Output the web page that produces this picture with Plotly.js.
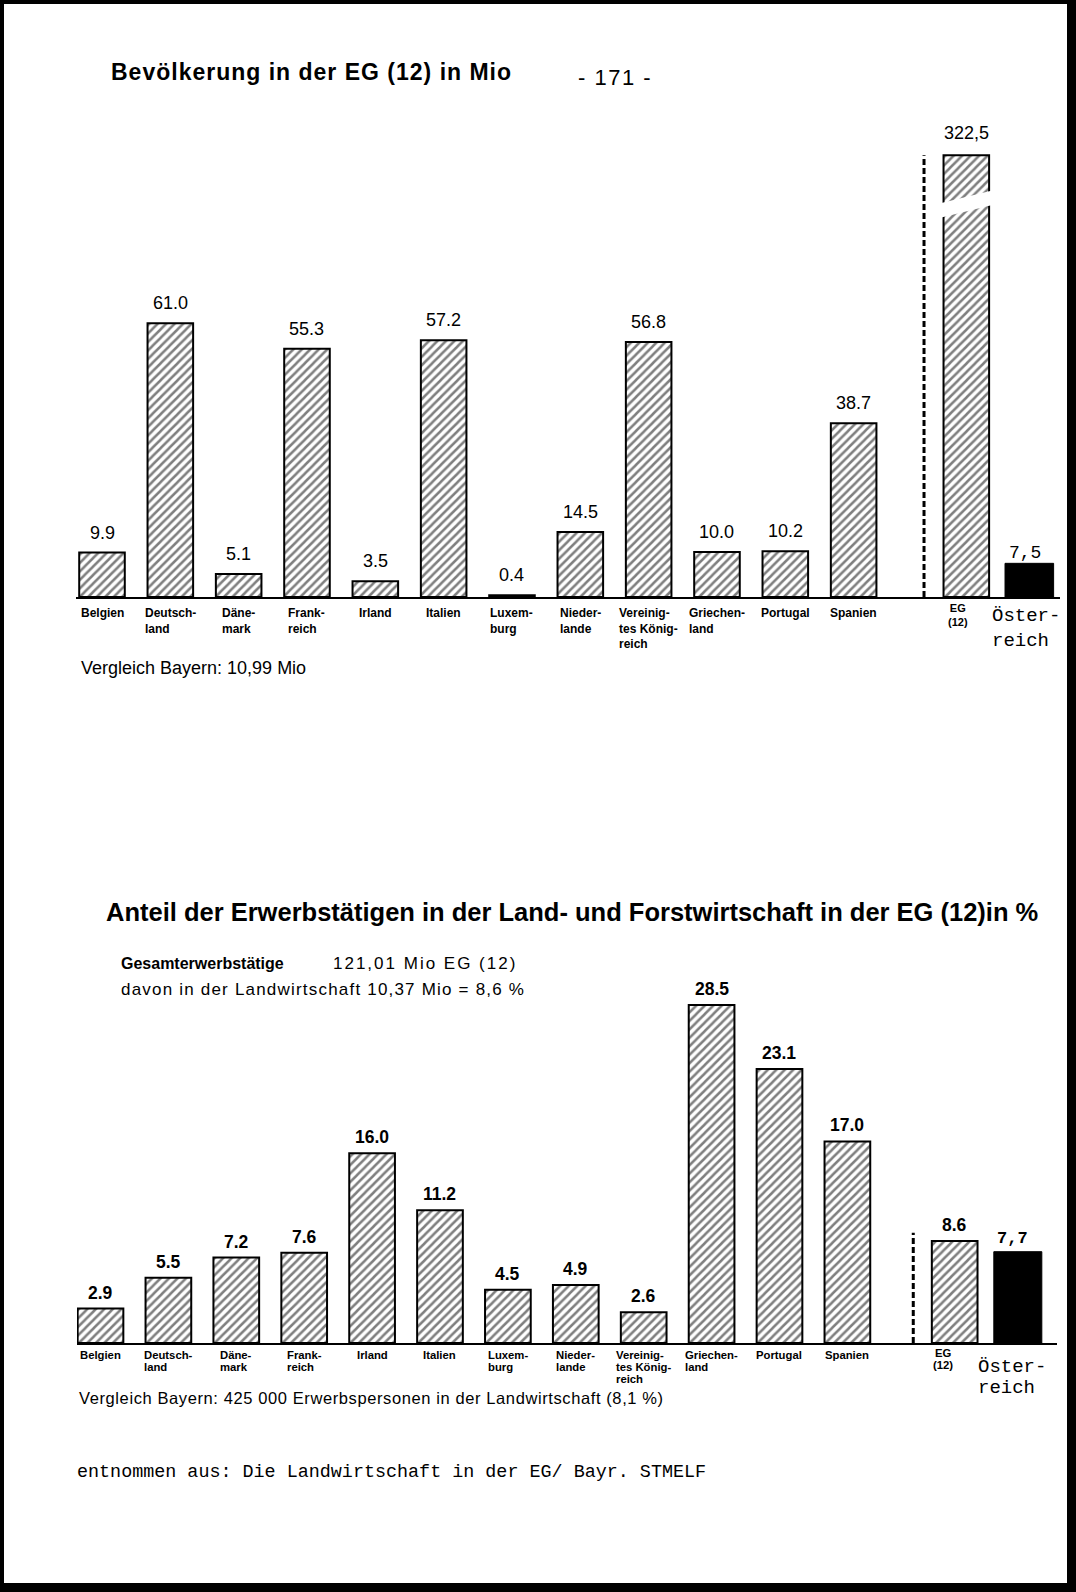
<!DOCTYPE html>
<html><head><meta charset="utf-8">
<script src="https://cdn.plot.ly/plotly-3.0.1.min.js"></script>
<style>html,body{margin:0;padding:0;background:#fff;}#chart{width:1076px;height:1592px;}</style>
</head><body><div id="chart"></div>
<script>
// ---------------- data ----------------
const countries = ["Belgien","Deutschland","Dänemark","Frankreich","Irland","Italien","Luxemburg","Niederlande","Vereinigtes Königreich","Griechenland","Portugal","Spanien","EG (12)"];
const catLabels1 = ["Belgien","Deutsch-<br>land","Däne-<br>mark","Frank-<br>reich","Irland","Italien","Luxem-<br>burg","Nieder-<br>lande","Vereinig-<br>tes König-<br>reich","Griechen-<br>land","Portugal","Spanien","EG<br>(12)"];
const population = [9.9, 61.0, 5.1, 55.3, 3.5, 57.2, 0.4, 14.5, 56.8, 10.0, 10.2, 38.7, 322.5];
const populationText = ["9.9","61.0","5.1","55.3","3.5","57.2","0.4","14.5","56.8","10.0","10.2","38.7","322,5"];
const populationAT = [7.5];
const populationATText = ["7,5"];
const agriShare = [2.9, 5.5, 7.2, 7.6, 16.0, 11.2, 4.5, 4.9, 2.6, 28.5, 23.1, 17.0, 8.6];
const agriShareText = ["2.9","5.5","7.2","7.6","16.0","11.2","4.5","4.9","2.6","28.5","23.1","17.0","8.6"];
const agriShareAT = [7.7];
const agriShareATText = ["7,7"];
const atLabel = "Öster-<br>reich";

// ---------------- layout helpers ----------------
const W = 1076, H = 1592;
const px = v => v / W;
const py = v => 1 - v / H;
function xPositions(gapEG, gapAT) {
  const xs = countries.map((_, i) => i < 12 ? i : 11 + gapEG);
  return { xs, xAT: 11 + gapEG + gapAT };
}
const P1 = xPositions(1.649, 0.922);
const P2 = xPositions(1.58, 0.93);
const CAP1 = 98.4; // EG bar drawn with a break
const disp1 = population.map(v => Math.min(v, CAP1));

const hatch = { color: '#fff', line: { color: '#000', width: 2 },
  pattern: { shape: '/', fgcolor: '#000', size: 6, solidity: 0.42, fillmode: 'overlay' } };

const traces = [
  { type: 'bar', x: P1.xs, y: disp1, width: 0.667, marker: hatch, xaxis: 'x', yaxis: 'y', hoverinfo: 'skip' },
  { type: 'bar', x: [P1.xAT], y: populationAT, width: 0.711, marker: { color: '#000', line: { color: '#000', width: 1 } }, xaxis: 'x', yaxis: 'y', hoverinfo: 'skip' },
  { type: 'bar', x: P2.xs, y: agriShare, width: 0.673, marker: hatch, xaxis: 'x2', yaxis: 'y2', hoverinfo: 'skip' },
  { type: 'bar', x: [P2.xAT], y: agriShareAT, width: 0.707, marker: { color: '#000', line: { color: '#000', width: 1 } }, xaxis: 'x2', yaxis: 'y2', hoverinfo: 'skip' }
];

const SANS = 'Liberation Sans, Arial, sans-serif';
const MONO = 'Liberation Mono, Courier New, monospace';
const ann = [];

// value labels
population.forEach((v, i) => ann.push({ xref: 'x', yref: 'y', x: P1.xs[i], y: disp1[i], text: populationText[i],
  showarrow: false, yanchor: 'middle', yshift: i === 12 ? 22 : 20, font: { family: SANS, size: 18, color: '#000' } }));
ann.push({ xref: 'x', yref: 'y', x: P1.xAT, y: populationAT[0], text: populationATText[0], showarrow: false,
  yanchor: 'middle', yshift: 10, xshift: -4, font: { family: MONO, size: 18, color: '#000' } });
agriShare.forEach((v, i) => ann.push({ xref: 'x2', yref: 'y2', x: P2.xs[i], y: v, text: agriShareText[i],
  showarrow: false, yanchor: 'middle', yshift: 16, font: { family: SANS, size: 17.5, color: '#000', weight: 'bold' } }));
ann.push({ xref: 'x2', yref: 'y2', x: P2.xAT, y: agriShareAT[0], text: agriShareATText[0], showarrow: false,
  yanchor: 'middle', yshift: 13, xshift: -5, font: { family: MONO, size: 17, color: '#000', weight: 'bold' } });

// category labels
catLabels1.forEach((t, i) => {
  const isEG = i === 12;
  ann.push({ xref: 'x', yref: 'y', x: P1.xs[i], y: 0, text: t, showarrow: false, xanchor: 'center', align: isEG ? 'center' : 'left',
    yanchor: 'top', yshift: isEG ? -3 : -7, xshift: isEG ? -8 : 0,
    font: { family: SANS, size: isEG ? 11 : 12, color: '#000', weight: 'bold' } });
  const t2 = t.split('<br>').map(s => '<span style="font-size:11.3px">' + s + '</span>').join('<br>');
  ann.push({ xref: 'x2', yref: 'y2', x: P2.xs[i], y: 0, text: t2, showarrow: false, xanchor: 'center', align: isEG ? 'center' : 'left',
    yanchor: 'top', yshift: isEG ? -2 : -4, xshift: isEG ? -12 : 0,
    font: { family: SANS, size: 9.4, color: '#000', weight: 'bold' } });
});
ann.push({ xref: 'x', yref: 'y', x: P1.xAT, y: 0, text: atLabel, showarrow: false, xanchor: 'center', align: 'left',
  yanchor: 'top', yshift: -6, xshift: -3, font: { family: MONO, size: 19, color: '#000' } });
ann.push({ xref: 'x2', yref: 'y2', x: P2.xAT, y: 0,
  text: atLabel.split('<br>').map(s => '<span style="font-size:19px">' + s + '</span>').join('<br>'),
  showarrow: false, xanchor: 'center', align: 'left', yanchor: 'top', yshift: -11, xshift: -6,
  font: { family: MONO, size: 15.8, color: '#000' } });

// texts on the page
function txt(x, y, text, font, extra) {
  ann.push(Object.assign({ xref: 'paper', yref: 'paper', x: px(x), y: py(y), text, showarrow: false,
    xanchor: 'left', yanchor: 'middle', font: Object.assign({ color: '#000' }, font) }, extra || {}));
}
txt(109, 72.5, '<span style="letter-spacing:1px">Bevölkerung in der EG (12) in Mio</span>', { family: SANS, size: 23, weight: 'bold' });
txt(576, 77, '<span style="letter-spacing:1.5px">- 171 -</span>', { family: SANS, size: 22 });
txt(79, 668, 'Vergleich Bayern: 10,99 Mio', { family: SANS, size: 18 });
txt(104, 911.5, 'Anteil der Erwerbstätigen in der Land- und Forstwirtschaft in der EG (12)in %', { family: SANS, size: 25.5, weight: 'bold' });
txt(119, 963, 'Gesamterwerbstätige', { family: SANS, size: 16, weight: 'bold' });
txt(331, 963, '<span style="letter-spacing:2px">121,01 Mio EG (12)</span>', { family: SANS, size: 17 });
txt(119, 989.5, '<span style="letter-spacing:1.2px">davon in der Landwirtschaft 10,37 Mio = 8,6 %</span>', { family: SANS, size: 17 });
txt(77, 1398, '<span style="letter-spacing:0.6px">Vergleich Bayern: 425 000 Erwerbspersonen in der Landwirtschaft (8,1 %)</span>', { family: SANS, size: 16.5 });
txt(75, 1472, 'entnommen aus: Die Landwirtschaft in der EG/ Bayr. STMELF', { family: MONO, size: 18.4 });

// shapes: dashed separators, axis break, page frame
const egX = P1.xs[12];
const bMid = 87.5, bHalf = 1.6, bSlope = 3.75, bW = 0.38;
const shapes = [
  { type: 'line', xref: 'x', yref: 'y', x0: 12.03, x1: 12.03, y0: 0, y1: CAP1, line: { color: '#000', width: 3, dash: '6px,3px' } },
  { type: 'line', xref: 'x2', yref: 'y2', x0: 11.97, x1: 11.97, y0: 0, y1: 9.3, line: { color: '#000', width: 3, dash: '6px,3px' } },
  { type: 'path', xref: 'x', yref: 'y', fillcolor: '#fff', line: { width: 0 },
    path: `M ${egX - bW},${bMid - bHalf - bSlope * bW} L ${egX + bW},${bMid - bHalf + bSlope * bW} L ${egX + bW},${bMid + bHalf + bSlope * bW} L ${egX - bW},${bMid + bHalf - bSlope * bW} Z` },
  { type: 'rect', xref: 'paper', yref: 'paper', x0: 0, x1: px(4), y0: 0, y1: 1, fillcolor: '#000', line: { width: 0 } },
  { type: 'rect', xref: 'paper', yref: 'paper', x0: 0, x1: 1, y0: py(4), y1: 1, fillcolor: '#000', line: { width: 0 } },
  { type: 'rect', xref: 'paper', yref: 'paper', x0: px(1067), x1: 1, y0: 0, y1: 1, fillcolor: '#000', line: { width: 0 } },
  { type: 'rect', xref: 'paper', yref: 'paper', x0: 0, x1: 1, y0: 0, y1: py(1583), fillcolor: '#000', line: { width: 0 } }
];

const axX = { showline: true, linecolor: '#000', linewidth: 2, showgrid: false, zeroline: false, ticks: '', showticklabels: false, fixedrange: true };
const layout = {
  width: W, height: H, margin: { l: 0, r: 0, t: 0, b: 0 }, paper_bgcolor: '#fff', plot_bgcolor: 'rgba(0,0,0,0)',
  showlegend: false, barmode: 'overlay', font: { family: SANS, color: '#000' },
  xaxis: Object.assign({ domain: [px(76), px(1060)], range: [-0.3805, 14.02], anchor: 'y' }, axX),
  yaxis: { domain: [py(597), py(100)], range: [0, 110.7], visible: false, fixedrange: true },
  xaxis2: Object.assign({ domain: [px(77), px(1057)], range: [-0.346, 14.087], anchor: 'y2' }, axX),
  yaxis2: { domain: [py(1343), py(980)], range: [0, 30.61], visible: false, fixedrange: true },
  annotations: ann, shapes
};
Plotly.newPlot('chart', traces, layout, { staticPlot: true });
</script></body></html>
